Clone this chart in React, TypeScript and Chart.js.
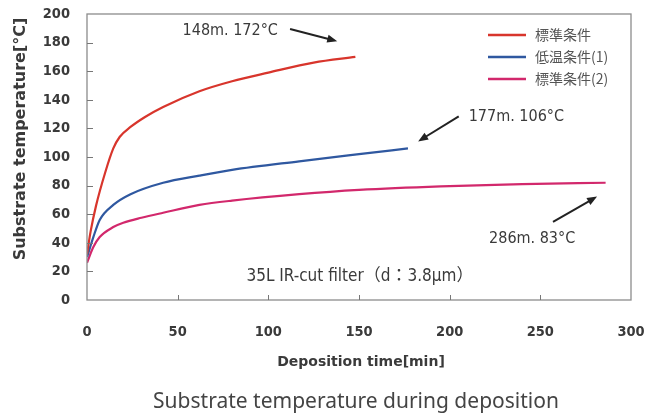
import React, { useEffect, useRef } from "react";
import { Chart, registerables } from "chart.js";

Chart.register(...registerables);

// ---- data ----
const xTicks = [0, 50, 100, 150, 200, 250, 300];
const yTicks = [0, 20, 40, 60, 80, 100, 120, 140, 160, 180, 200];

const seriesLabels = ["標準条件", "低温条件(1)", "標準条件(2)"];

const standardTime = [0, 2, 5, 10, 14.5, 18, 24, 32, 42, 62, 80, 100, 125, 148];
const standardTemp = [32, 48, 66, 89, 106, 114, 121, 128, 135, 146, 153, 159, 166, 170];

const lowTime = [0, 3.5, 7, 14.5, 24, 42, 62, 80, 117, 150, 177];
const lowTemp = [30, 44, 56, 66.5, 74, 82, 87, 91, 97, 102, 106];

const standard2Time = [0, 3.5, 7, 14.5, 20, 30, 42, 62, 80, 117, 150, 195, 240, 286];
const standard2Temp = [26, 37, 44, 51, 54, 57.5, 61, 66.5, 69.5, 74, 77, 79.5, 81, 82];

const noteTexts = ["148m. 172°C", "177m. 106°C", "286m. 83°C"];
const filterNote = "35L IR-cut filter（d：3.8μm）";

// annotation placement in data units (layout, not data)
const annotations = [
  { text: noteTexts[0], tx: 79, ty: 188, align: "center", from: [112, 189.5], to: [138, 181] },
  { text: noteTexts[1], tx: 210.5, ty: 128.4, align: "left", from: [205, 128.4], to: [182.6, 110.9] },
  { text: noteTexts[2], tx: 245.5, ty: 42.8, align: "center", from: [257, 54.7], to: [281.3, 72.3] },
];

const colors = ["#d8352c", "#2f58a0", "#d2286c"];

const toPoints = (xs: number[], ys: number[]) => xs.map((x, i) => ({ x, y: ys[i] }));

const COND = "'DejaVu Sans Condensed', 'DejaVu Sans', sans-serif";
const TXT = "#3a3a3a";

const decor = {
  id: "decor",
  afterDraw(chart: any) {
    const { ctx, chartArea } = chart;
    const xs = chart.scales.x;
    const ys = chart.scales.y;
    const { left, right, top, bottom } = chartArea;
    ctx.save();
    // frame
    ctx.strokeStyle = "#8c8c8c";
    ctx.lineWidth = 1.3;
    ctx.strokeRect(left, top, right - left, bottom - top);
    // inward tick marks
    ctx.strokeStyle = "#777";
    ctx.lineWidth = 1;
    xTicks.forEach((v) => {
      if (v === 0 || v === 300) return;
      const px = Math.round(xs.getPixelForValue(v)) + 0.5;
      ctx.beginPath();
      ctx.moveTo(px, bottom);
      ctx.lineTo(px, bottom - 5);
      ctx.stroke();
    });
    yTicks.forEach((v) => {
      if (v === 0 || v === 200) return;
      const py = Math.round(ys.getPixelForValue(v)) + 0.5;
      ctx.beginPath();
      ctx.moveTo(left, py);
      ctx.lineTo(left + 6, py);
      ctx.stroke();
    });

    // legend
    const lx = 488;
    chart.data.datasets.forEach((ds: any, i: number) => {
      const ly = 35 + i * 22;
      ctx.strokeStyle = ds.borderColor;
      ctx.lineWidth = 2.5;
      ctx.beginPath();
      ctx.moveTo(lx, ly);
      ctx.lineTo(lx + 38, ly);
      ctx.stroke();
      ctx.fillStyle = "#555";
      ctx.font = "14px 'Noto Sans CJK JP', sans-serif";
      ctx.textAlign = "left";
      ctx.textBaseline = "middle";
      ctx.fillText(ds.label, lx + 47, ly);
    });

    // annotations with arrows
    ctx.font = `16px ${COND}`;
    ctx.fillStyle = TXT;
    annotations.forEach((a) => {
      ctx.textAlign = a.align as CanvasTextAlign;
      ctx.textBaseline = "middle";
      ctx.fillText(a.text, xs.getPixelForValue(a.tx), ys.getPixelForValue(a.ty));
      const x1 = xs.getPixelForValue(a.from[0]);
      const y1 = ys.getPixelForValue(a.from[1]);
      const x2 = xs.getPixelForValue(a.to[0]);
      const y2 = ys.getPixelForValue(a.to[1]);
      const ang = Math.atan2(y2 - y1, x2 - x1);
      ctx.strokeStyle = "#222";
      ctx.lineWidth = 2;
      ctx.beginPath();
      ctx.moveTo(x1, y1);
      ctx.lineTo(x2 - 6 * Math.cos(ang), y2 - 6 * Math.sin(ang));
      ctx.stroke();
      ctx.fillStyle = "#222";
      ctx.beginPath();
      ctx.moveTo(x2, y2);
      ctx.lineTo(x2 - 10 * Math.cos(ang) + 4 * Math.sin(ang), y2 - 10 * Math.sin(ang) - 4 * Math.cos(ang));
      ctx.lineTo(x2 - 10 * Math.cos(ang) - 4 * Math.sin(ang), y2 - 10 * Math.sin(ang) + 4 * Math.cos(ang));
      ctx.closePath();
      ctx.fill();
      ctx.fillStyle = TXT;
    });

    // filter note
    ctx.font = `17px ${COND}, 'Noto Sans CJK JP'`;
    ctx.textAlign = "center";
    ctx.textBaseline = "middle";
    ctx.fillStyle = TXT;
    ctx.fillText(filterNote, xs.getPixelForValue(150.5), 277);

    // axis titles
    ctx.font = "bold 14px 'DejaVu Sans', sans-serif";
    ctx.fillStyle = TXT;
    ctx.fillText("Deposition time[min]", 361, 362);
    ctx.save();
    ctx.translate(21, 139);
    ctx.rotate(-Math.PI / 2);
    ctx.font = "bold 16px 'DejaVu Sans', sans-serif";
    ctx.fillText("Substrate temperature[°C]", 0, 0);
    ctx.restore();

    // caption
    ctx.font = "21px 'Noto Sans', 'DejaVu Sans', sans-serif";
    ctx.fillStyle = "#444";
    ctx.fillText("Substrate temperature during deposition", 356, 402);
    ctx.restore();
  },
};

export default function App() {
  const ref = useRef<HTMLCanvasElement>(null);
  useEffect(() => {
    document.body.style.margin = "0";
    const canvas = ref.current;
    if (!canvas) return;
    const chart = new Chart(canvas, {
      type: "line",
      data: {
        datasets: [
          { label: seriesLabels[0], data: toPoints(standardTime, standardTemp), borderColor: colors[0] },
          { label: seriesLabels[1], data: toPoints(lowTime, lowTemp), borderColor: colors[1] },
          { label: seriesLabels[2], data: toPoints(standard2Time, standard2Temp), borderColor: colors[2] },
        ].map((d) => ({
          ...d,
          borderWidth: 2.2,
          pointRadius: 0,
          fill: false,
          cubicInterpolationMode: "monotone" as const,
        })),
      },
      options: {
        responsive: false,
        animation: false,
        devicePixelRatio: 1,
        layout: { padding: { top: 14, right: 31, left: 0, bottom: 0 } },
        plugins: { legend: { display: false }, tooltip: { enabled: false }, title: { display: false } },
        scales: {
          x: {
            type: "linear",
            min: 0,
            max: 300,
            afterBuildTicks: (s: any) => {
              s.ticks = xTicks.map((v) => ({ value: v }));
            },
            afterFit: (s: any) => {
              s.height = 116;
              s.paddingLeft = 0;
              s.paddingRight = 0;
              s.paddingTop = 0;
              s.paddingBottom = 0;
            },
            grid: { display: false, drawTicks: false },
            border: { display: false },
            ticks: {
              padding: 24,
              color: TXT,
              font: { family: COND, size: 14.5, weight: "bold" },
              maxRotation: 0,
            },
          },
          y: {
            type: "linear",
            min: 0,
            max: 200,
            afterBuildTicks: (s: any) => {
              s.ticks = yTicks.map((v) => ({ value: v }));
            },
            afterFit: (s: any) => {
              s.width = 87;
              s.paddingLeft = 0;
              s.paddingRight = 0;
              s.paddingTop = 0;
              s.paddingBottom = 0;
            },
            grid: { display: false, drawTicks: false },
            border: { display: false },
            ticks: {
              padding: 17,
              color: TXT,
              font: { family: COND, size: 14.5, weight: "bold" },
            },
          },
        },
      },
      plugins: [decor],
    });
    return () => chart.destroy();
  }, []);
  return (
    <div style={{ width: 662, height: 416, background: "#fff" }}>
      <canvas ref={ref} width={662} height={416} />
    </div>
  );
}
